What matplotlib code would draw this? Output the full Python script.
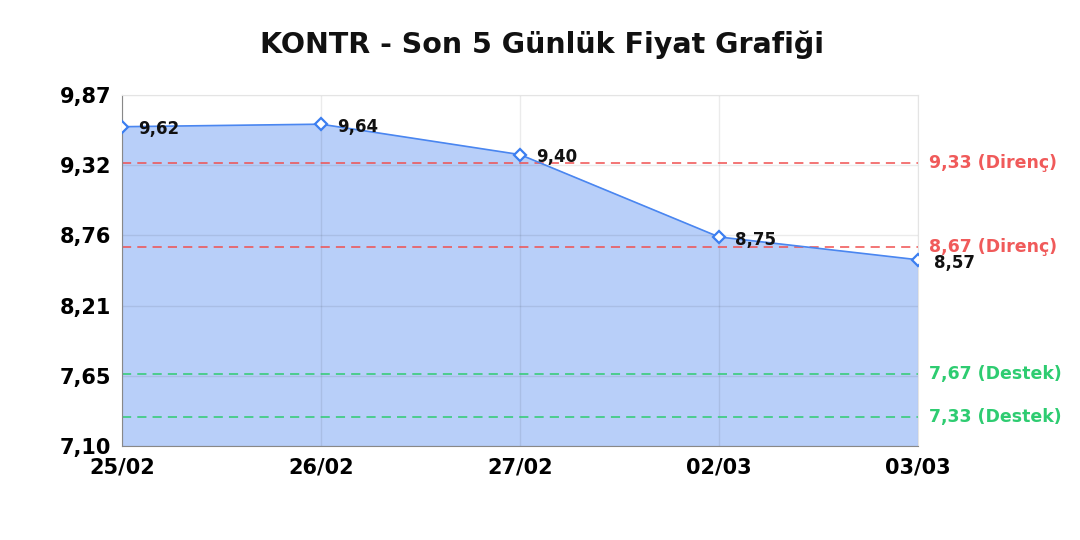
import matplotlib
matplotlib.use("Agg")
import matplotlib.pyplot as plt
import numpy as np

dates = ["25/02", "26/02", "27/02", "02/03", "03/03"]
prices = [9.62, 9.64, 9.40, 8.75, 8.57]
resistance = [9.33, 8.67]
support = [7.67, 7.33]
y_ticks = [7.10, 7.654, 8.208, 8.762, 9.316, 9.87]
y_tick_labels = ["7,10", "7,65", "8,21", "8,76", "9,32", "9,87"]
title = "KONTR - Son 5 Günlük Fiyat Grafiği"

plt.rcParams['font.family'] = ['DejaVu Sans']
fig = plt.figure(figsize=(10.8, 5.4), dpi=100)
ax = fig.add_axes([0.113, 0.174, 0.737, 0.650])

x = np.arange(len(dates))
ax.fill_between(x, prices, 7.10, color="#b8cff9", zorder=1)
ax.plot(x, prices, color="#4a86f0", lw=1.2, zorder=3)
ax.plot(x, prices, linestyle="none", marker="D", markersize=6.5,
        markerfacecolor="white", markeredgecolor="#3b7ef0", markeredgewidth=1.6, zorder=4)

for xi, p in zip(x, prices):
    ax.annotate(f"{p:.2f}".replace(".", ","), (xi, p), xytext=(11.5, -2), textcoords="offset points",
                fontsize=12, fontweight="bold", color="#111111", va="center", ha="left", zorder=5)

for r in resistance:
    ax.axhline(r, color="#f05050", lw=1.1, dashes=(6, 4), zorder=2)
    ax.text(1.014, r, f"{r:.2f} (Direnç)".replace(".", ","), transform=ax.get_yaxis_transform(),
            color="#f05a5a", fontsize=12.5, fontweight="bold", va="center", ha="left")
for s in support:
    ax.axhline(s, color="#2ecc71", lw=1.1, dashes=(6, 4), zorder=2)
    ax.text(1.014, s, f"{s:.2f} (Destek)".replace(".", ","), transform=ax.get_yaxis_transform(),
            color="#2ecc71", fontsize=12.5, fontweight="bold", va="center", ha="left")

ax.set_xlim(0, len(dates) - 1)
ax.set_ylim(7.10, 9.87)
ax.set_yticks(y_ticks)
ax.set_yticklabels(y_tick_labels)
ax.set_xticks(x)
ax.set_xticklabels(dates)
ax.tick_params(axis="y", length=0, labelsize=15, pad=8)
ax.tick_params(axis="x", length=0, labelsize=15, pad=8)
for lab in ax.get_xticklabels() + ax.get_yticklabels():
    lab.set_fontweight("bold")
ax.grid(True, color="black", alpha=0.08, lw=1, zorder=1.5)
for side in ["top", "right"]:
    ax.spines[side].set_color("#e4e4e4")
ax.spines["left"].set_color("#888888")
ax.spines["bottom"].set_color("#888888")

fig.text(0.502, 0.918, title, ha="center", va="center", fontsize=20.5, fontweight="bold", color="#111111")

fig.savefig("out.png", dpi=100, facecolor="white")
